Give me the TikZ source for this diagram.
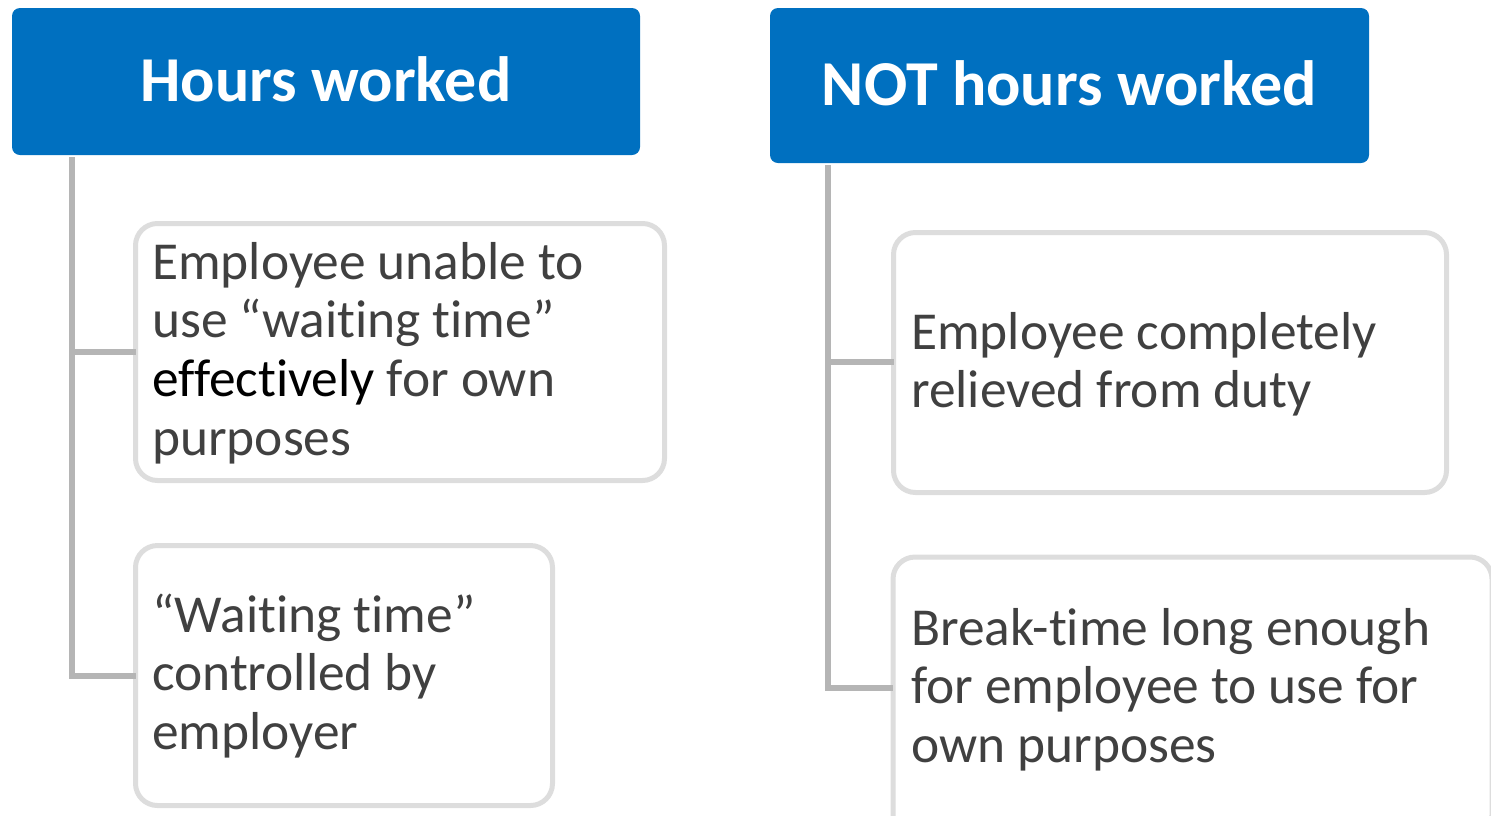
\documentclass[tikz,border=0pt]{standalone}
\usepackage{fontspec}
\setmainfont{Carlito}[Ligatures=NoCommon]
\begin{document}
\begin{tikzpicture}[x=1pt,y=-1pt,
  hdr/.style={draw=none,fill=hblue,rounded corners=8pt,inner sep=0pt},
  hdrtext/.style={text=white,font=\fontsize{64}{77}\selectfont\bfseries,inner sep=0pt,anchor=base},
  itembox/.style={draw=boxgray,line width=5pt,fill=white,rounded corners=22pt,inner sep=0pt},
  itemtext/.style={text=txtgray,font=\fontsize{53.4}{58.6}\selectfont,align=left,inner sep=0pt,anchor=north west},
  tree/.style={draw=linegray,line width=5.5pt,line cap=rect}
]
\definecolor{hblue}{HTML}{0070C0}
\definecolor{boxgray}{HTML}{DDDDDD}
\definecolor{linegray}{HTML}{B5B5B5}
\definecolor{txtgray}{HTML}{404040}
\useasboundingbox (0,0) rectangle (1491,815);

% headers
\node[hdr,minimum width=628pt,minimum height=147pt] (hw) at (326,81.5) {};
\node[hdrtext] (hwt) at (326,101) {Hours worked};
\node[hdr,minimum width=599pt,minimum height=155pt] (nhw) at (1069.5,85.5) {};
\node[hdrtext] (nhwt) at (1069.5,105) {NOT hours worked};

% tree spines and branch points
\coordinate (ls) at (72,160);
\coordinate (lb1) at (72,352);
\coordinate (lb2) at (72,676);
\coordinate (rs) at (828,168);
\coordinate (rb1) at (828,362);
\coordinate (rb2) at (828,688);

% item boxes
\node[itembox,minimum width=529pt,minimum height=257pt] (b1) at (400,352) {};
\node[itembox,minimum width=417pt,minimum height=260pt] (b2) at (344,675.5) {};
\node[itembox,minimum width=553pt,minimum height=260pt] (b3) at (1170,362.5) {};
\node[itembox,minimum width=599pt,minimum height=280pt] (b4) at (1192.5,697) {};

\draw[tree] (ls) -- (lb2) -- (b2.west |- lb2);
\draw[tree] (lb1) -- (b1.west |- lb1);
\draw[tree] (rs) -- (rb2) -- (b4.west |- rb2);
\draw[tree] (rb1) -- (b3.west |- rb1);

% item texts (each line opens with a strut: baseline = top + 41pt)
\node[itemtext] (t1) at (152,238) {\strut Employee unable to\\\strut use “waiting time”\\\strut\textcolor{black}{effectively} for own\\\strut purposes};
\node[itemtext] (t2) at (152,591) {\strut “Waiting time”\\\strut controlled by\\\strut employer};
\node[itemtext] (t3) at (911,308) {\strut Employee completely\\\strut relieved from duty};
\node[itemtext] (t4) at (911,604) {\strut Break-time long enough\\\strut for employee to use for\\\strut own purposes};
\end{tikzpicture}
\end{document}
